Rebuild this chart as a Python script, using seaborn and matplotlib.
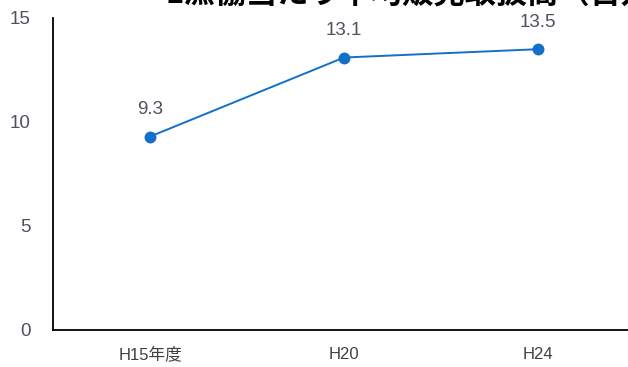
import matplotlib
matplotlib.use('Agg')
import matplotlib.pyplot as plt
import seaborn as sns

# data
years = ['H15年度', 'H20', 'H24']
sales = [9.3, 13.1, 13.5]
title = '1漁協当たり平均販売取扱高（百万円）'

sns.set_style('white')
plt.rcParams['font.family'] = ['Liberation Sans', 'Noto Sans CJK JP', 'DejaVu Sans']

fig = plt.figure(figsize=(6.28, 3.67), dpi=100)
# axes runs a bit past the right edge, like the cropped original
ax = fig.add_axes([53 / 628, 37 / 367, 582 / 628, 312 / 367])

line_color = '#1270c8'
sns.pointplot(x=years, y=sales, ax=ax, color=line_color,
              markersize=7.5, linewidth=1.4)

ax.set_xlim(-0.5, 2.5)
ax.set_ylim(0, 15)
ax.set_yticks([0, 5, 10, 15])

# tick marks sit between the categories, labels at the centres
ax.set_xticks([0.5, 1.5])
ax.set_xticklabels(['', ''])
ax.set_xticks(range(len(years)), minor=True)
ax.set_xticklabels(years, minor=True)
ax.tick_params(axis='x', which='minor', length=0, pad=12, labelsize=12,
               labelcolor='#404040')
ax.tick_params(axis='x', which='major', direction='in', length=4,
               color='#a0a0a0', width=1.2)
ax.tick_params(axis='y', direction='in', length=4, color='#a0a0a0', width=1.2,
               pad=16, labelsize=13.5, labelcolor='#505060')

sns.despine(ax=ax)
for side in ['left', 'bottom']:
    ax.spines[side].set_color('black')
    ax.spines[side].set_linewidth(1.3)

ax.set_xlabel('')
ax.set_ylabel('')

for i, v in enumerate(sales):
    ax.annotate(f'{v}', (i, v), xytext=(0, 19.5), textcoords='offset points',
                ha='center', va='center', fontsize=13.5, color='#505060')

# title, mostly cut off by the top edge of the picture
fig.text(166 / 628, 1 - 4 / 367, title, ha='left', va='baseline',
         fontsize=22.5, fontweight='bold', color='black',
         family=['Noto Sans CJK JP', 'DejaVu Sans'])

plt.savefig('out.png', dpi=100)
